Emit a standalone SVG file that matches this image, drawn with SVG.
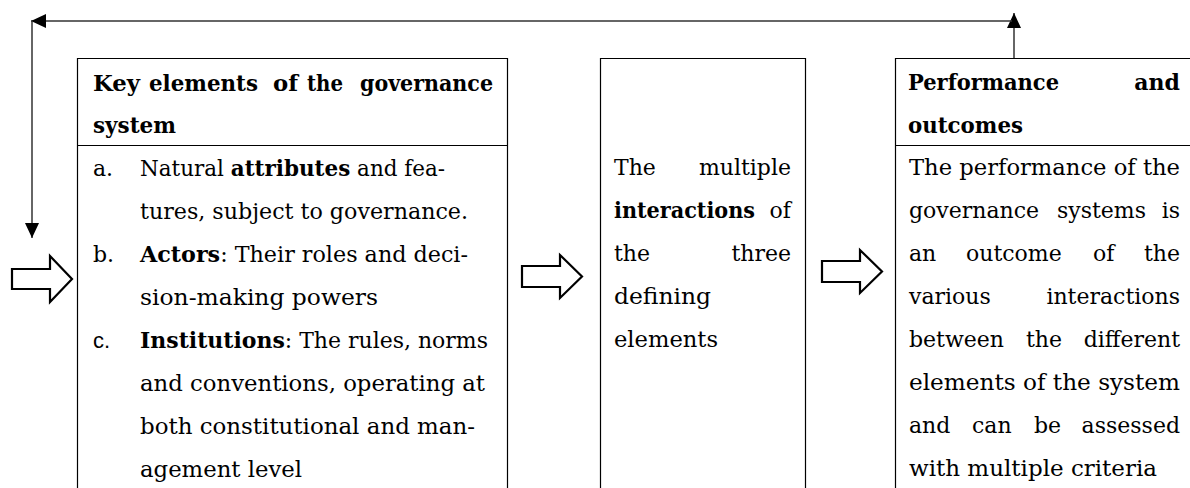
<svg xmlns="http://www.w3.org/2000/svg" width="1190" height="488" viewBox="0 0 1190 488">
<style>
text{font-family:"DejaVu Serif","Liberation Serif",serif;font-size:22px;fill:#000}
.b{font-weight:bold}
.box{fill:none;stroke:#000;stroke-width:1.2}
.conn{fill:none;stroke:#333;stroke-width:1.5}
.blk{fill:#fff;stroke:#000;stroke-width:2.2;stroke-linejoin:miter}
.sans{font-family:"Liberation Sans",Arial,sans-serif}
</style>
<defs>
<marker id="ah" markerUnits="userSpaceOnUse" markerWidth="15" markerHeight="14" refX="15" refY="7" orient="auto" viewBox="0 0 15 14">
<path d="M0,0 L15,7 L0,14 Z" fill="#000"/>
</marker>
</defs>
<rect width="1190" height="488" fill="#fff"/>
<g id="connectors">
<path class="conn" d="M1014,58 V13" marker-end="url(#ah)"/>
<path class="conn" d="M1012,21 H31" marker-end="url(#ah)"/>
<path class="conn" d="M32,21 V238" marker-end="url(#ah)"/>
<path class="blk" d="M12,269 H50 V256 L72,279 L50,302 V289 H12 Z"/>
<path class="blk" d="M522,266 H560 V255 L582,276.5 L560,298 V287 H522 Z"/>
<path class="blk" d="M822,261 H860 V250 L882,271.5 L860,293 V282 H822 Z"/>
</g>
<g id="key-elements">
<path class="box" d="M77.5,488 V58.5 H507.5 V488 M77.5,145.5 H507.5"/>
<text class="b" x="93" y="91" textLength="47" lengthAdjust="spacingAndGlyphs">Key</text>
<text class="b" x="149" y="91" textLength="109" lengthAdjust="spacingAndGlyphs">elements</text>
<text class="b" x="273" y="91" textLength="25" lengthAdjust="spacingAndGlyphs">of</text>
<text class="b" x="307" y="91" textLength="36" lengthAdjust="spacingAndGlyphs">the</text>
<text class="b" x="360" y="91" textLength="133" lengthAdjust="spacingAndGlyphs">governance</text>
<text class="b" x="93" y="133" textLength="83" lengthAdjust="spacingAndGlyphs">system</text>
<text x="93" y="176">a.</text>
<text x="140" y="176" textLength="305" lengthAdjust="spacingAndGlyphs">Natural <tspan class="b">attributes</tspan> and fea-</text>
<text x="140" y="219" textLength="328" lengthAdjust="spacingAndGlyphs">tures, subject to governance.</text>
<text x="93" y="262">b.</text>
<text x="140" y="262" textLength="328" lengthAdjust="spacingAndGlyphs"><tspan class="b">Actors</tspan>: Their roles and deci-</text>
<text x="140" y="305" textLength="238" lengthAdjust="spacingAndGlyphs">sion-making powers</text>
<text class="sans" x="93" y="348">c.</text>
<text x="140" y="348" textLength="348" lengthAdjust="spacingAndGlyphs"><tspan class="b">Institutions</tspan>: The rules, norms</text>
<text x="140" y="391" textLength="345" lengthAdjust="spacingAndGlyphs">and conventions, operating at</text>
<text x="140" y="434" textLength="335" lengthAdjust="spacingAndGlyphs">both constitutional and man-</text>
<text x="140" y="477" textLength="162" lengthAdjust="spacingAndGlyphs">agement level</text>
</g>
<g id="interactions">
<path class="box" d="M600.5,488 V58.5 H805.5 V488"/>
<text x="614" y="175">The</text>
<text x="791" y="175" text-anchor="end">multiple</text>
<text class="b" x="614" y="218" textLength="141" lengthAdjust="spacingAndGlyphs">interactions</text>
<text x="791" y="218" text-anchor="end">of</text>
<text x="614" y="261">the</text>
<text x="791" y="261" text-anchor="end">three</text>
<text x="614" y="304" textLength="97" lengthAdjust="spacingAndGlyphs">defining</text>
<text x="614" y="347" textLength="104" lengthAdjust="spacingAndGlyphs">elements</text>
</g>
<g id="performance">
<path class="box" d="M895.5,488 V58.5 H1190 M895.5,145.5 H1190"/>
<text class="b" x="908" y="90" textLength="151" lengthAdjust="spacingAndGlyphs">Performance</text>
<text class="b" x="1180" y="90" text-anchor="end">and</text>
<text class="b" x="908" y="133" textLength="115" lengthAdjust="spacingAndGlyphs">outcomes</text>
<text x="909" y="175" textLength="271" lengthAdjust="spacingAndGlyphs">The performance of the</text>
<text x="909" y="218">governance</text>
<text x="1057" y="218">systems</text>
<text x="1180" y="218" text-anchor="end">is</text>
<text x="909" y="261">an</text>
<text x="966" y="261">outcome</text>
<text x="1093" y="261">of</text>
<text x="1180" y="261" text-anchor="end">the</text>
<text x="909" y="304">various</text>
<text x="1180" y="304" text-anchor="end">interactions</text>
<text x="909" y="347">between</text>
<text x="1026" y="347">the</text>
<text x="1180" y="347" text-anchor="end">different</text>
<text x="909" y="390" textLength="271" lengthAdjust="spacingAndGlyphs">elements of the system</text>
<text x="909" y="433">and</text>
<text x="972" y="433">can</text>
<text x="1034" y="433">be</text>
<text x="1180" y="433" text-anchor="end">assessed</text>
<text x="909" y="476" textLength="248" lengthAdjust="spacingAndGlyphs">with multiple criteria</text>
</g>
</svg>
